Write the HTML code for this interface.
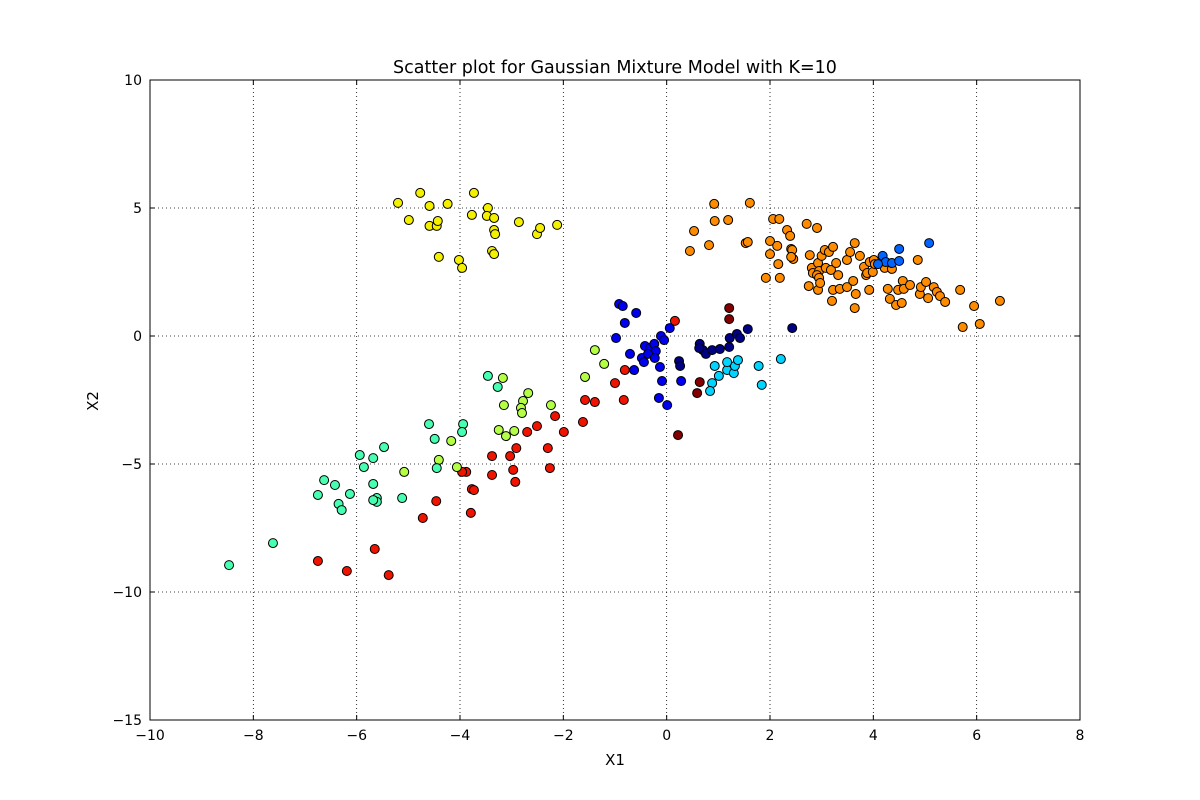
<!DOCTYPE html>
<html><head><meta charset="utf-8"><style>
body{margin:0;background:#fff;}
svg{display:block;font-family:"DejaVu Sans","Liberation Sans",sans-serif;}
</style></head><body>
<svg id="chart" width="1200" height="800"></svg>
<script>
const xTicks=[-10,-8,-6,-4,-2,0,2,4,6,8];
const yTicks=[10,5,0,-5,-10,-15];
const yellowX=[-5.20,-4.77,-4.99,-4.59,-4.59,-4.45,-4.43,-4.24,-3.77,-3.73,-3.46,-3.48,-3.34,-3.34,-3.32,-2.86,-2.51,-2.45,-2.12,-4.41,-4.02,-3.96,-3.38,-3.34];
const yellowY=[5.20,5.59,4.53,5.08,4.30,4.30,4.49,5.16,4.73,5.59,5.00,4.69,4.61,4.14,3.98,4.45,3.98,4.22,4.34,3.09,2.97,2.66,3.32,3.20];
const orangeX=[0.53,0.45,0.92,0.82,0.93,1.19,1.53,1.57,1.61,1.92,2.00,2.00,2.06,2.14,2.18,2.16,2.19,2.33,2.39,2.41,2.43,2.45,2.41,2.71,2.75,2.77,2.81,2.83,2.91,2.93,2.95,2.91,2.93,2.95,2.97,3.00,3.06,3.08,3.14,3.18,3.22,3.20,3.22,3.28,3.32,3.35,3.49,3.55,3.49,3.61,3.64,3.66,3.64,3.74,3.82,3.86,3.88,3.92,3.93,3.99,4.01,4.03,4.22,4.28,4.32,4.36,4.44,4.48,4.55,4.57,4.59,4.71,4.86,4.90,4.92,5.02,5.06,5.17,5.23,5.29,5.39,5.68,5.73,5.95,6.06,6.45];
const orangeY=[4.10,3.32,5.16,3.55,4.49,4.53,3.63,3.67,5.20,2.27,3.71,3.20,4.57,3.52,4.57,2.81,2.27,4.14,3.91,3.40,3.36,3.01,3.09,4.38,1.95,3.16,2.66,2.46,4.22,2.85,2.54,2.38,1.80,2.27,2.07,3.13,3.36,2.66,3.28,2.58,3.48,1.37,1.80,2.85,2.38,1.84,2.97,3.28,1.91,2.15,3.63,1.64,1.09,3.13,2.70,2.38,2.46,1.80,2.89,2.50,2.97,2.81,2.66,1.84,1.45,2.62,1.21,1.80,1.29,2.15,1.84,1.99,2.97,1.64,1.91,2.11,1.48,1.91,1.72,1.56,1.33,1.80,0.35,1.17,0.47,1.37];
const lightBlueX=[4.18,4.24,4.36,4.50,4.50,5.08,4.09];
const lightBlueY=[3.13,2.89,2.85,3.40,2.93,3.63,2.81];
const navyX=[0.24,0.64,0.70,0.76,0.88,1.03,1.21,1.22,1.36,1.42,1.57,2.43,0.63,0.26];
const navyY=[-0.98,-0.31,-0.55,-0.70,-0.55,-0.51,-0.43,-0.08,0.08,-0.08,0.27,0.31,-0.47,-1.17];
const darkRedX=[1.21,1.21,0.64,0.59,0.22];
const darkRedY=[1.09,0.66,-1.80,-2.23,-3.87];
const blueX=[-0.92,-0.85,-0.59,-0.98,-0.81,-0.71,-0.63,-0.48,-0.42,-0.32,-0.24,-0.21,-0.11,-0.05,0.06,-0.13,-0.09,-0.15,0.01,0.28,-0.36,-0.44,-0.23];
const blueY=[1.25,1.17,0.90,-0.08,0.51,-0.70,-1.33,-0.86,-0.39,-0.47,-0.31,-0.59,0.00,-0.16,0.31,-1.21,-1.76,-2.42,-2.70,-1.76,-0.70,-1.02,-0.86];
const cyanX=[0.93,1.01,0.88,0.84,1.17,1.30,1.32,1.38,1.78,1.84,2.21,1.17];
const cyanY=[-1.17,-1.56,-1.84,-2.15,-1.33,-1.45,-1.17,-0.94,-1.17,-1.91,-0.90,-1.02];
const redX=[0.16,-0.81,-1.00,-0.83,-1.58,-1.39,-2.16,-1.62,-1.99,-2.51,-2.30,-2.70,-2.91,-3.03,-3.38,-2.97,-3.38,-2.26,-3.88,-3.96,-3.77,-3.79,-3.73,-4.46,-4.72,-5.65,-6.19,-6.75,-5.38,-2.93];
const redY=[0.59,-1.33,-1.84,-2.50,-2.50,-2.58,-3.13,-3.36,-3.75,-3.52,-4.38,-3.75,-4.38,-4.69,-4.69,-5.23,-5.43,-5.16,-5.31,-5.31,-5.98,-6.91,-6.02,-6.45,-7.11,-8.32,-9.18,-8.79,-9.34,-5.70];
const limeX=[-1.39,-1.58,-1.21,-2.68,-3.17,-2.78,-2.82,-2.80,-2.24,-3.15,-3.11,-2.95,-3.25,-4.17,-4.41,-4.06,-5.08];
const limeY=[-0.55,-1.60,-1.09,-2.23,-1.64,-2.54,-2.81,-3.01,-2.70,-2.70,-3.91,-3.71,-3.67,-4.10,-4.84,-5.12,-5.31];
const aquaX=[-3.46,-3.27,-3.94,-3.96,-4.60,-4.49,-4.45,-5.47,-5.68,-5.86,-5.94,-5.68,-5.61,-5.61,-5.68,-6.13,-6.63,-6.42,-6.75,-6.35,-6.29,-5.12,-7.62,-8.47];
const aquaY=[-1.56,-1.99,-3.44,-3.75,-3.44,-4.02,-5.16,-4.34,-4.77,-5.12,-4.65,-5.78,-6.33,-6.48,-6.41,-6.17,-5.63,-5.82,-6.21,-6.56,-6.80,-6.33,-8.09,-8.95];

const NS="http://www.w3.org/2000/svg";
const svg=document.getElementById('chart');
const L=150,R=1080,T=80,B=720;
const sx=v=>L+(v+10)/18*(R-L);
const sy=v=>T+(10-v)/25*(B-T);
function mk(tag,attrs,parent){const e=document.createElementNS(NS,tag);for(const k in attrs)e.setAttribute(k,attrs[k]);(parent||svg).appendChild(e);return e;}

const grid=mk('g',{});


xTicks.forEach(t=>{
  const x=sx(t);
  if(t>-10&&t<8){const g=mk('line',{x1:x,x2:x,y1:T,y2:B,stroke:'#000','stroke-width':0.8,'stroke-dasharray':'1,3'},grid);
  }
  mk('line',{x1:x,x2:x,y1:B,y2:B-5,stroke:'#000'});
  mk('line',{x1:x,x2:x,y1:T,y2:T+5,stroke:'#000'});
  const lb=mk('text',{x:x,y:B+20,'text-anchor':'middle','font-size':14});
  lb.textContent=(t<0?'\u2212':'')+Math.abs(t);
  
  
});
yTicks.forEach(t=>{
  const y=sy(t);
  if(t<10&&t>-15){const g=mk('line',{x1:L,x2:R,y1:y,y2:y,stroke:'#000','stroke-width':0.8,'stroke-dasharray':'1,3'},grid);
  }
  mk('line',{x1:L,x2:L+5,y1:y,y2:y,stroke:'#000'});
  mk('line',{x1:R,x2:R-5,y1:y,y2:y,stroke:'#000'});
  const lb=mk('text',{x:L-8,y:y+5,'text-anchor':'end','font-size':14});
  lb.textContent=(t<0?'\u2212':'')+Math.abs(t);
  
  
});

const series=[
 ['yellow',yellowX,yellowY,'#f5f000'],
 ['orange',orangeX,orangeY,'#ff8c00'],
 ['light-blue',lightBlueX,lightBlueY,'#0064ff'],
 ['navy',navyX,navyY,'#000084'],
 ['dark-red',darkRedX,darkRedY,'#840000'],
 ['blue',blueX,blueY,'#0000f0'],
 ['cyan',cyanX,cyanY,'#00d4ff'],
 ['red',redX,redY,'#f01400'],
 ['lime',limeX,limeY,'#b4ff43'],
 ['aqua',aquaX,aquaY,'#46ffb1']
];
series.forEach(([name,xs,ys,col])=>{
  const g=mk('g',{});
  
  
  xs.forEach((v,i)=>{
    const c=mk('circle',{cx:sx(v),cy:sy(ys[i]),r:4.5,fill:col,stroke:'#000','stroke-width':1},g);
    
    
  });
});

const frame=mk('rect',{x:L,y:T,width:R-L,height:B-T,fill:'none',stroke:'#000','stroke-width':1});


const title=mk('text',{x:615,y:73,'text-anchor':'middle','font-size':17.5});
title.textContent='Scatter plot for Gaussian Mixture Model with K=10';


const xl=mk('text',{x:615,y:765,'text-anchor':'middle','font-size':15});
xl.textContent='X1';


const yl=mk('text',{x:98,y:401,'text-anchor':'middle','font-size':15,transform:'rotate(-90 98 401)'});
yl.textContent='X2';


</script>
</body></html>
